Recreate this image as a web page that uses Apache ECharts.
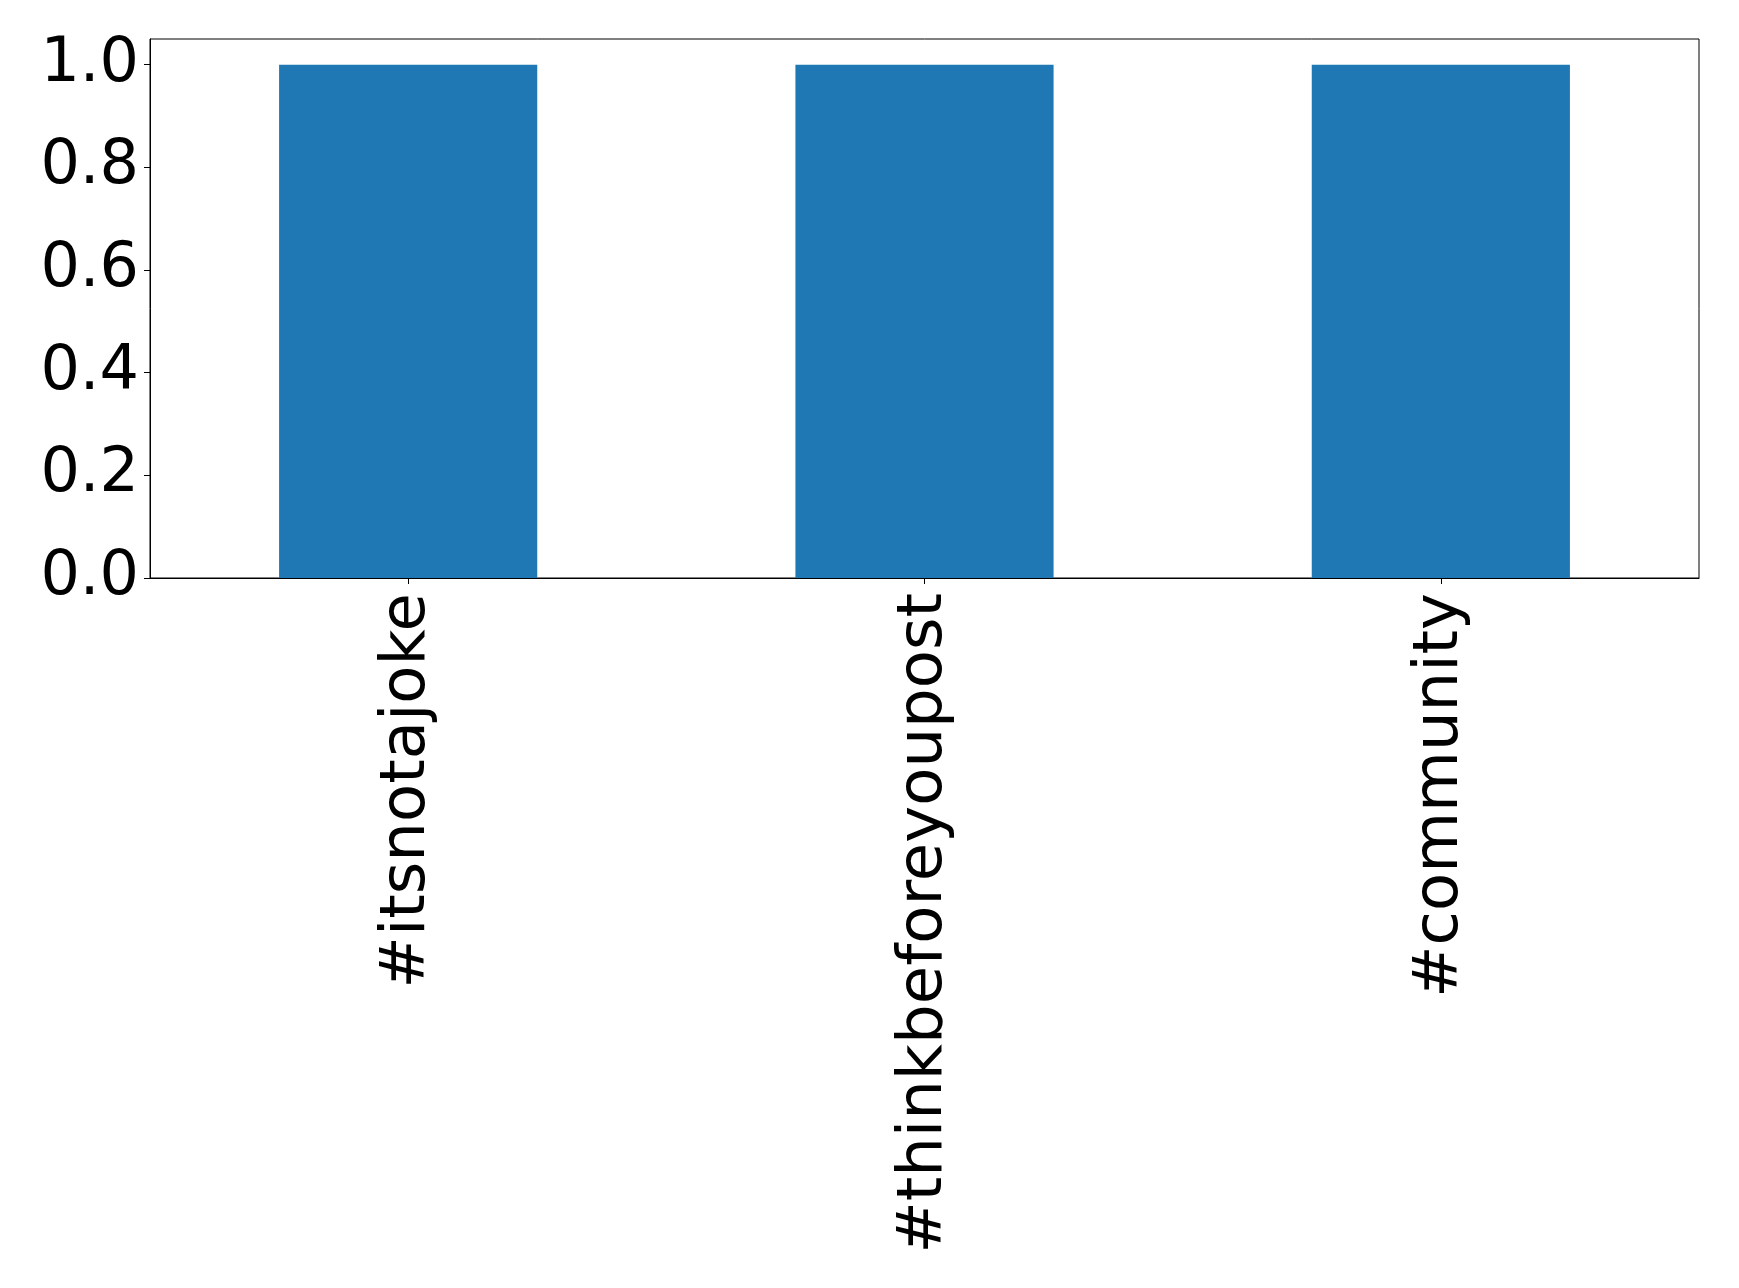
<!DOCTYPE html>
<html>
<head>
<meta charset="utf-8">
<script src="https://cdn.jsdelivr.net/npm/echarts@6/dist/echarts.min.js"></script>
<style>html,body{margin:0;padding:0;background:#fff;}#c{width:1739px;height:1288px;}</style>
</head>
<body>
<div id="c"></div>
<script>
const categories = ['#itsnotajoke', '#thinkbeforeyoupost', '#community'];
const values = [1, 1, 1];
const yTicks = [0, 0.2, 0.4, 0.6, 0.8, 1.0];

const chart = echarts.init(document.getElementById('c'));
const font = 'DejaVu Sans';
chart.setOption({
  animation: false,
  backgroundColor: '#fff',
  grid: { left: 150, top: 39, right: 40, bottom: 710, show: true, borderColor: '#000', borderWidth: 1, backgroundColor: 'transparent' },
  xAxis: {
    type: 'category',
    data: categories,
    boundaryGap: true,
    axisLine: { show: true, lineStyle: { color: '#000', width: 1 } },
    axisTick: { show: true, alignWithLabel: true, length: 6, lineStyle: { color: '#000', width: 1 } },
    axisLabel: { rotate: 90, margin: 15, fontFamily: font, fontSize: 62.5, color: '#000', interval: 0, lineHeight: 62, padding: [0, 0, 12, 0] },
    splitLine: { show: false }
  },
  yAxis: {
    type: 'value',
    min: 0,
    max: 1.05,
    interval: 0.2,
    axisLine: { show: true, lineStyle: { color: '#000', width: 1 } },
    axisTick: { show: true, length: 6, lineStyle: { color: '#000', width: 1 }, customValues: yTicks },
    axisLabel: { margin: 11, fontFamily: font, fontSize: 62, color: '#000', customValues: yTicks, formatter: v => v.toFixed(1) },
    splitLine: { show: false }
  },
  series: [{
    type: 'bar',
    data: values,
    barWidth: '50%',
    itemStyle: { color: '#1f77b4' }
  }]
});
</script>
</body>
</html>
